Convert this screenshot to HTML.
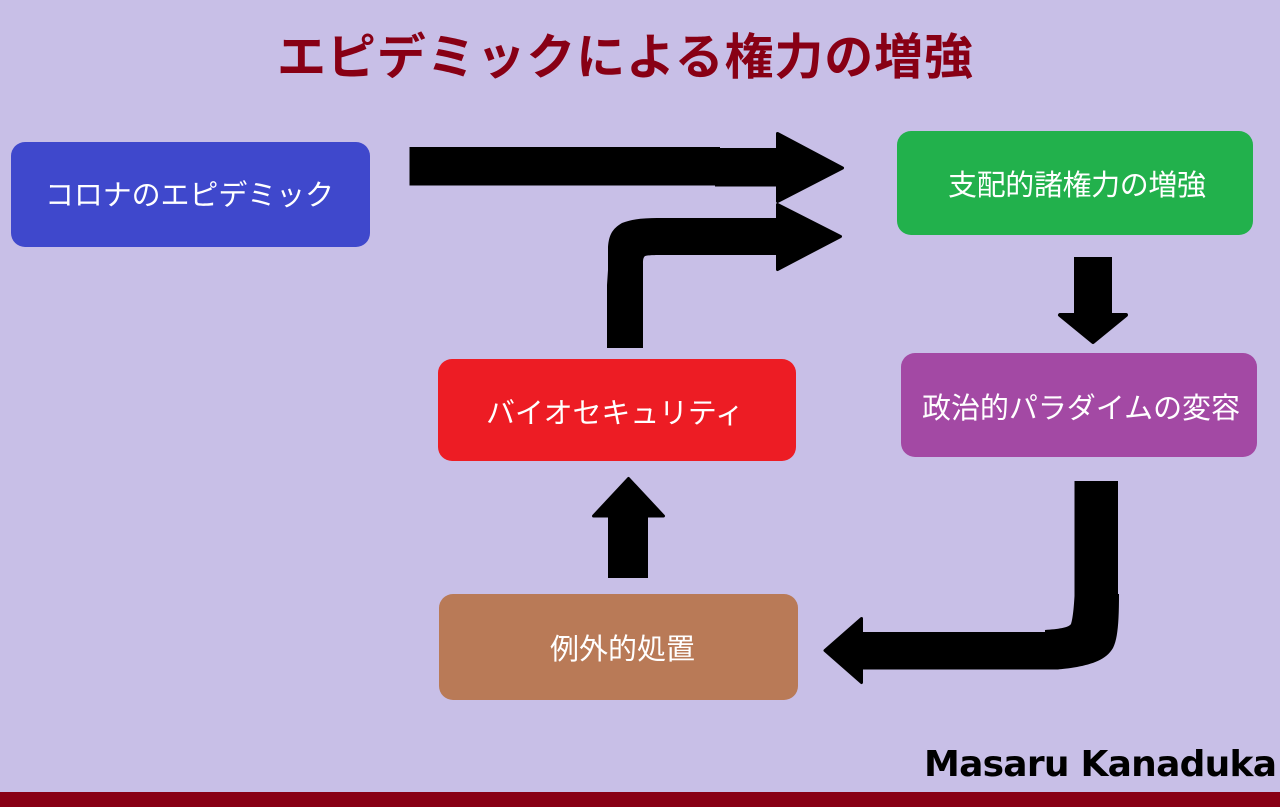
<!DOCTYPE html>
<html lang="ja">
<head>
<meta charset="utf-8">
<title>エピデミックによる権力の増強</title>
<style>
html,body{margin:0;padding:0;width:1280px;height:807px;overflow:hidden;background:#c8bfe7}
svg{display:block}
.l{font-family:"Liberation Sans","Noto Sans CJK JP",sans-serif;font-weight:400;fill:#fff;font-size:29px;text-anchor:start}
</style>
</head>
<body>
<svg width="1280" height="807" viewBox="0 0 1280 807" xmlns="http://www.w3.org/2000/svg">
<rect width="1280" height="807" fill="#c8bfe7"/>
<rect x="0" y="792" width="1280" height="15" fill="#880015"/>

<text x="277" y="74" textLength="696" lengthAdjust="spacing" font-family="'Liberation Sans','Noto Sans CJK JP',sans-serif" font-weight="700" font-size="49" fill="#880015">エピデミックによる権力の増強</text>

<rect x="11" y="142" width="359" height="105" rx="14" fill="#3f48cc"/>
<rect x="897" y="131" width="356" height="104" rx="14" fill="#22b14c"/>
<rect x="901" y="353" width="356" height="104" rx="14" fill="#a349a4"/>
<rect x="438" y="359" width="358" height="102" rx="14" fill="#ed1c24"/>
<rect x="439" y="594" width="359" height="106" rx="14" fill="#b97a57"/>

<text class="l" x="45" y="205" textLength="289" lengthAdjust="spacing">コロナのエピデミック</text>
<text class="l" x="948" y="195" textLength="258" lengthAdjust="spacing">支配的諸権力の増強</text>
<text class="l" x="922" y="418" textLength="318" lengthAdjust="spacing">政治的パラダイムの変容</text>
<text class="l" x="486" y="423" textLength="258" lengthAdjust="spacing">バイオセキュリティ</text>
<text class="l" x="550" y="659" textLength="145" lengthAdjust="spacing">例外的処置</text>

<g fill="#000" stroke="#000" stroke-width="3" stroke-linejoin="round">
<path stroke="none" d="M409.500 147H720V148H778V186.500H715V185.500H409.500Z"/>
<path d="M777.500 133.500L842.500 168L777.500 201.500Z"/>
<path stroke="none" d="M607 348V285L608 270V247C609 235 612 229 622 223C632 219 645 218 657 218H778V255H667C655 255 649 255 645 256C643 258 643 260 643 264V348Z"/>
<path d="M777.500 204.500L840.500 236.500L777.500 269.500Z"/>
<path stroke="none" d="M1074.500 481H1118V594H1119C1119 620 1118 638 1113 648C1106 660 1092 664 1077 667C1068 668.500 1062 669 1058 669.500H862V632H1045V630C1058 629 1068 628 1071 624C1073 618 1074 605 1074.500 596Z"/>
<path d="M861.500 618.500L825 650.500L861.500 682.500Z"/>
<path stroke="none" d="M1074 257H1112V316H1074Z"/>
<path stroke-width="4" d="M1060 315H1126L1093 342Z"/>
<path stroke="none" d="M608 578V515H648V578Z"/>
<path d="M593.500 516L628.500 478.500L663.500 516Z"/>
</g>

<text x="924" y="776" textLength="353" lengthAdjust="spacing" font-family="'DejaVu Sans',sans-serif" font-weight="700" font-size="36" fill="#000">Masaru Kanaduka</text>
</svg>
</body>
</html>
